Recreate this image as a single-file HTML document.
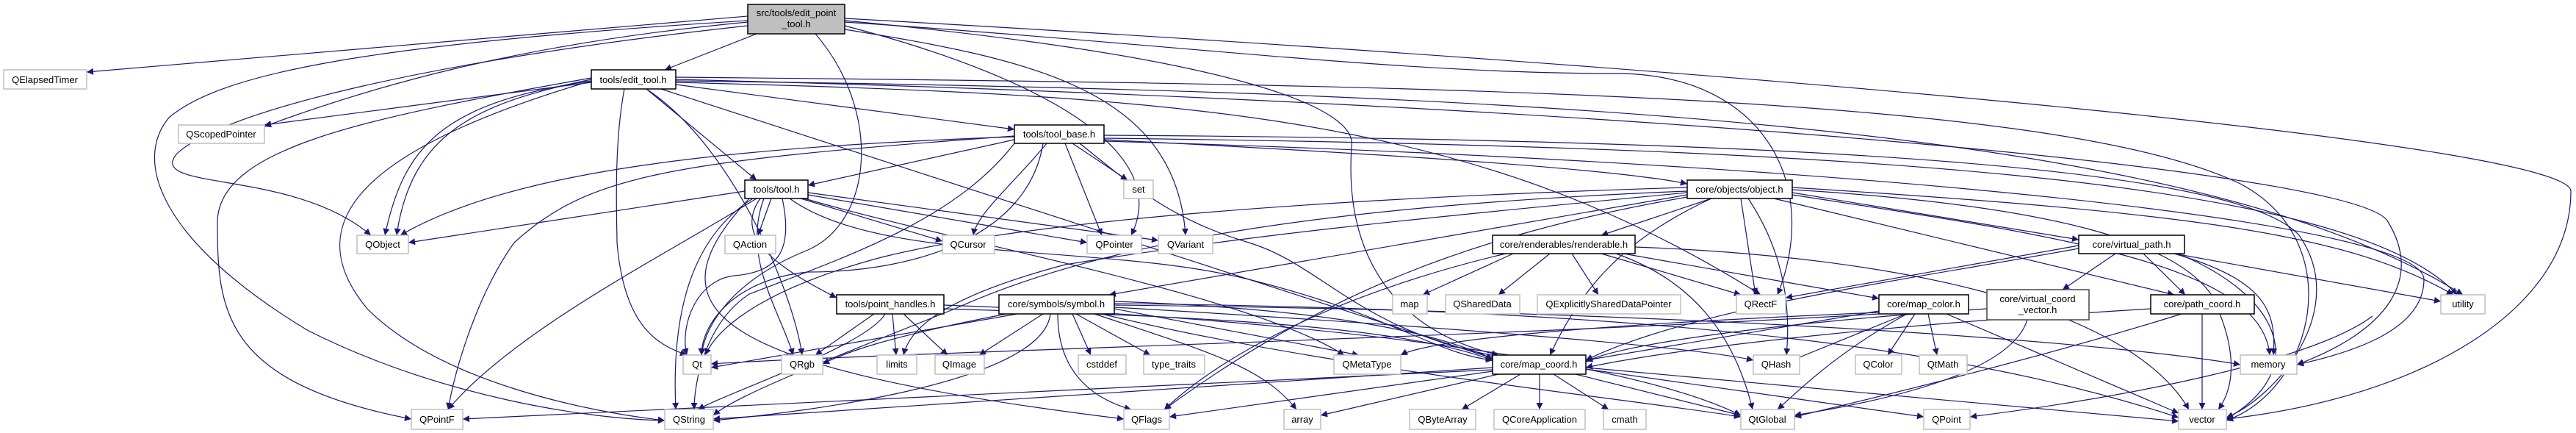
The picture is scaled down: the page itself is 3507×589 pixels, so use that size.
<!DOCTYPE html>
<html><head><meta charset="utf-8"><style>
html,body{margin:0;padding:0;background:#fff;}
svg{display:block;}
text{font-family:"Liberation Sans",sans-serif;font-size:13px;fill:#000;text-anchor:middle;}
.e path{fill:none;stroke:#191970;stroke-width:1.2;}
.g{fill:#fff;stroke:#bfbfbf;stroke-width:1.5;}
.b{fill:#fff;stroke:#000;stroke-width:1.5;}
</style></head><body>
<svg width="3507" height="589" viewBox="0 0 3507 589" xmlns="http://www.w3.org/2000/svg">
<defs><marker id="a" viewBox="0 0 10 10" markerWidth="11" markerHeight="9" refX="10" refY="5" orient="auto" markerUnits="userSpaceOnUse"><path d="M0,0 L10,5 L0,10 z" fill="#191970"/></marker></defs>
<g class="e" marker-end="url(#a)">
<path d="M1018 22 L118 98" marker-end="url(#a)"/>
<path d="M1030 46 L905 95" marker-end="url(#a)"/>
<path d="M1018 30 C700 60,500 120,360 172" marker-end="url(#a)"/>
<path d="M1018 35 C600 80,300 150,240 210 C200 260,400 230,505 320" marker-end="url(#a)"/>
<path d="M1018 28 C500 60,300 100,230 160 C180 220,220 330,420 450 C600 540,800 570,905 572" marker-end="url(#a)"/>
<path d="M1110 46 C1200 150,1190 300,1100 340 C1000 380,960 440,955 483" marker-end="url(#a)"/>
<path d="M1150 35 C1400 100,1600 200,1540 320" marker-end="url(#a)"/>
<path d="M1150 40 C1400 80,1600 120,1614 320" marker-end="url(#a)"/>
<path d="M1150 30 C1600 60,1900 100,2200 100 C2400 100,2480 250,2420 401" marker-end="url(#a)"/>
<path d="M1150 28 C1700 80,1850 150,1840 200 C1830 350,1900 450,2040 483" marker-end="url(#a)"/>
<path d="M1150 25 C2500 100,3500 200,3500 260 C3500 420,3300 540,3031 570" marker-end="url(#a)"/>
<path d="M805 112 L360 170" marker-end="url(#a)"/>
<path d="M805 110 C600 140,550 200,524 320" marker-end="url(#a)"/>
<path d="M805 108 C650 140,560 180,540 320" marker-end="url(#a)"/>
<path d="M805 106 C500 160,300 200,296 300 C296 420,300 520,560 570" marker-end="url(#a)"/>
<path d="M805 110 C500 200,400 300,500 420 C600 520,800 560,905 572" marker-end="url(#a)"/>
<path d="M850 121 C835 200,840 300,840 330 C850 450,900 470,935 483" marker-end="url(#a)"/>
<path d="M880 121 C1000 200,1080 400,1092 483" marker-end="url(#a)"/>
<path d="M920 115 L1381 176" marker-end="url(#a)"/>
<path d="M880 121 L1030 245" marker-end="url(#a)"/>
<path d="M900 121 L2040 490" marker-end="url(#a)"/>
<path d="M920 105 C2000 115,2800 130,3050 250 C3200 330,3150 530,3031 572" marker-end="url(#a)"/>
<path d="M920 110 C2200 125,3000 180,3353 401" marker-end="url(#a)"/>
<path d="M920 108 C2200 140,3200 230,3250 300 C3300 380,3250 450,3127 496" marker-end="url(#a)"/>
<path d="M920 112 C1600 130,2000 150,2397 401" marker-end="url(#a)"/>
<path d="M1381 186 C1000 200,700 230,545 320" marker-end="url(#a)"/>
<path d="M1381 190 L1100 252" marker-end="url(#a)"/>
<path d="M1381 185 C900 220,800 240,700 330 C650 400,620 500,610 557" marker-end="url(#a)"/>
<path d="M1381 195 C1300 300,1150 350,1020 400 C960 440,945 520,945 557" marker-end="url(#a)"/>
<path d="M1420 195 C1400 320,1250 370,1100 370 C1000 380,955 440,955 483" marker-end="url(#a)"/>
<path d="M1425 195 C1380 250,1330 290,1325 320" marker-end="url(#a)"/>
<path d="M1450 195 L1500 320" marker-end="url(#a)"/>
<path d="M1460 195 L1535 245" marker-end="url(#a)"/>
<path d="M1503 190 C1900 210,2200 230,2297 250" marker-end="url(#a)"/>
<path d="M1503 188 C2500 200,3200 240,3345 401" marker-end="url(#a)"/>
<path d="M1503 192 C2500 220,3300 300,3300 380 C3300 450,3200 480,3127 496" marker-end="url(#a)"/>
<path d="M1503 184 C2500 190,3050 230,3130 320 C3200 420,3100 540,3031 568" marker-end="url(#a)"/>
<path d="M1470 195 C1550 260,1600 300,1700 330 C1800 360,1850 450,2040 485" marker-end="url(#a)"/>
<path d="M1014 260 L556 330" marker-end="url(#a)"/>
<path d="M1050 270 L1032 320" marker-end="url(#a)"/>
<path d="M1090 270 L1283 328" marker-end="url(#a)"/>
<path d="M1100 265 L1480 330" marker-end="url(#a)"/>
<path d="M1100 262 L1577 327" marker-end="url(#a)"/>
<path d="M1030 270 C900 350,700 450,610 557" marker-end="url(#a)"/>
<path d="M1025 270 C930 330,915 450,920 557" marker-end="url(#a)"/>
<path d="M1065 270 C1080 340,1060 370,1000 375 C950 380,925 440,935 483" marker-end="url(#a)"/>
<path d="M1040 270 C1010 350,1060 420,1080 483" marker-end="url(#a)"/>
<path d="M1035 270 C1000 320,1050 360,1139 405" marker-end="url(#a)"/>
<path d="M1075 270 C1200 360,1500 330,1700 380 C1900 430,1950 480,2032 490" marker-end="url(#a)"/>
<path d="M1095 270 C1300 330,1700 400,1830 483" marker-end="url(#a)"/>
<path d="M1020 270 C880 420,960 500,1530 570" marker-end="url(#a)"/>
<path d="M1190 427 L1110 483" marker-end="url(#a)"/>
<path d="M1215 427 L1220 483" marker-end="url(#a)"/>
<path d="M1230 427 L1290 483" marker-end="url(#a)"/>
<path d="M1205 427 C1180 470,1000 530,950 557" marker-end="url(#a)"/>
<path d="M1285 420 C1600 430,1900 440,2032 490" marker-end="url(#a)"/>
<path d="M1285 415 C1700 430,2200 480,2370 565" marker-end="url(#a)"/>
<path d="M1385 427 L968 500" marker-end="url(#a)"/>
<path d="M1370 427 C1200 460,1150 480,1120 495" marker-end="url(#a)"/>
<path d="M1420 427 L1333 483" marker-end="url(#a)"/>
<path d="M1460 427 L1485 483" marker-end="url(#a)"/>
<path d="M1465 427 L1566 483" marker-end="url(#a)"/>
<path d="M1440 427 C1440 500,1480 540,1540 557" marker-end="url(#a)"/>
<path d="M1490 427 C1650 480,1720 500,1765 557" marker-end="url(#a)"/>
<path d="M1430 427 C1420 520,1100 560,971 572" marker-end="url(#a)"/>
<path d="M1517 410 C1800 420,1950 450,2032 488" marker-end="url(#a)"/>
<path d="M1517 420 L1850 483" marker-end="url(#a)"/>
<path d="M1517 418 C1900 440,2300 470,2387 490" marker-end="url(#a)"/>
<path d="M1517 413 C2300 420,2700 480,2966 568" marker-end="url(#a)"/>
<path d="M1517 415 C2400 425,2900 470,3050 496" marker-end="url(#a)"/>
<path d="M1500 427 C1800 500,2200 540,2370 567" marker-end="url(#a)"/>
<path d="M2330 270 L2180 320" marker-end="url(#a)"/>
<path d="M2370 270 L2390 401" marker-end="url(#a)"/>
<path d="M2380 270 C2420 330,2440 400,2432 483" marker-end="url(#a)"/>
<path d="M2440 262 L2830 326" marker-end="url(#a)"/>
<path d="M2415 270 L2960 401" marker-end="url(#a)"/>
<path d="M2440 255 C3000 290,3200 320,3340 401" marker-end="url(#a)"/>
<path d="M2440 258 C2800 280,2960 330,3010 400 C3050 480,3040 530,3020 557" marker-end="url(#a)"/>
<path d="M2440 265 C2800 320,3080 360,3090 483" marker-end="url(#a)"/>
<path d="M2330 270 C2200 330,2150 400,2110 483" marker-end="url(#a)"/>
<path d="M2297 260 C1800 280,1500 330,1300 420 C1100 500,1000 540,971 565" marker-end="url(#a)"/>
<path d="M2297 255 C1800 270,1400 300,1200 350 C1050 390,980 440,960 483" marker-end="url(#a)"/>
<path d="M2297 262 C1900 300,1700 320,1450 360 C1300 400,1240 440,1230 483" marker-end="url(#a)"/>
<path d="M2297 265 L1510 401" marker-end="url(#a)"/>
<path d="M2297 268 C2000 320,1800 400,1585 557" marker-end="url(#a)"/>
<path d="M2060 345 L1937 401" marker-end="url(#a)"/>
<path d="M2110 345 L2040 401" marker-end="url(#a)"/>
<path d="M2140 345 L2176 401" marker-end="url(#a)"/>
<path d="M2180 345 L2370 401" marker-end="url(#a)"/>
<path d="M2210 345 L2558 406" marker-end="url(#a)"/>
<path d="M2200 345 C2300 380,2360 450,2386 557" marker-end="url(#a)"/>
<path d="M2050 345 C1900 380,1700 450,1585 557" marker-end="url(#a)"/>
<path d="M2226 336 C2600 350,2900 420,2980 557" marker-end="url(#a)"/>
<path d="M2595 427 L2440 490" marker-end="url(#a)"/>
<path d="M2607 427 L2570 483" marker-end="url(#a)"/>
<path d="M2625 427 L2637 483" marker-end="url(#a)"/>
<path d="M2596 427 C2500 480,2450 530,2420 557" marker-end="url(#a)"/>
<path d="M2558 423 L2159 490" marker-end="url(#a)"/>
<path d="M2558 425 C2200 440,1950 460,1907 483" marker-end="url(#a)"/>
<path d="M2558 427 C2000 460,1200 480,968 495" marker-end="url(#a)"/>
<path d="M2650 427 L2966 562" marker-end="url(#a)"/>
<path d="M2070 509 L1990 557" marker-end="url(#a)"/>
<path d="M2096 509 L2096 557" marker-end="url(#a)"/>
<path d="M2115 509 L2190 557" marker-end="url(#a)"/>
<path d="M2145 509 L2370 565" marker-end="url(#a)"/>
<path d="M2159 502 L2619 567" marker-end="url(#a)"/>
<path d="M2032 500 L971 570" marker-end="url(#a)"/>
<path d="M2032 503 C1400 530,900 560,630 570" marker-end="url(#a)"/>
<path d="M2032 505 L1592 567" marker-end="url(#a)"/>
<path d="M2040 509 L1798 565" marker-end="url(#a)"/>
<path d="M2159 500 L2966 573" marker-end="url(#a)"/>
<path d="M2880 345 L2808 394" marker-end="url(#a)"/>
<path d="M2918 345 L2975 401" marker-end="url(#a)"/>
<path d="M2960 345 L3323 410" marker-end="url(#a)"/>
<path d="M2960 345 C3080 380,3100 420,3095 483" marker-end="url(#a)"/>
<path d="M2965 345 C3100 400,3150 500,3031 570" marker-end="url(#a)"/>
<path d="M2830 338 C2600 380,2300 420,2159 490" marker-end="url(#a)"/>
<path d="M2830 334 L2431 405" marker-end="url(#a)"/>
<path d="M2705 420 C2400 440,2200 470,2159 492" marker-end="url(#a)"/>
<path d="M2760 435 C2740 500,2600 540,2443 565" marker-end="url(#a)"/>
<path d="M2998 427 L2998 557" marker-end="url(#a)"/>
<path d="M2928 420 C2600 440,2300 470,2159 500" marker-end="url(#a)"/>
<path d="M2970 427 C2800 480,2600 530,2443 567" marker-end="url(#a)"/>
<path d="M3230 430 C3150 490,2900 540,2682 567" marker-end="url(#a)"/>
</g>
<g>
<rect x="1018" y="6" width="132" height="40" fill="#bfbfbf" stroke="#000" stroke-width="1.5"/>
<text x="1084" y="22">src/tools/edit_point</text><text x="1084" y="37">_tool.h</text>
<rect class="b" x="805" y="95" width="115" height="26"/><text x="862" y="113">tools/edit_tool.h</text>
<rect class="g" x="5" y="95" width="113" height="26"/><text x="61" y="113">QElapsedTimer</text>
<rect class="g" x="243" y="170" width="117" height="25"/><text x="301" y="187">QScopedPointer</text>
<rect class="b" x="1381" y="170" width="122" height="25"/><text x="1442" y="187">tools/tool_base.h</text>
<rect class="b" x="1014" y="245" width="86" height="25"/><text x="1057" y="262">tools/tool.h</text>
<rect class="g" x="1530" y="245" width="40" height="25"/><text x="1550" y="262">set</text>
<rect class="b" x="2297" y="245" width="143" height="25"/><text x="2368" y="262">core/objects/object.h</text>
<rect class="g" x="486" y="320" width="70" height="25"/><text x="521" y="337">QObject</text>
<rect class="g" x="987" y="320" width="69" height="25"/><text x="1021" y="337">QAction</text>
<rect class="g" x="1283" y="320" width="71" height="25"/><text x="1318" y="337">QCursor</text>
<rect class="g" x="1480" y="320" width="74" height="25"/><text x="1517" y="337">QPointer</text>
<rect class="g" x="1577" y="320" width="74" height="25"/><text x="1614" y="337">QVariant</text>
<rect class="b" x="2032" y="320" width="194" height="25"/><text x="2129" y="337">core/renderables/renderable.h</text>
<rect class="b" x="2830" y="320" width="144" height="25"/><text x="2902" y="337">core/virtual_path.h</text>
<rect class="b" x="1139" y="401" width="146" height="26"/><text x="1212" y="418">tools/point_handles.h</text>
<rect class="b" x="1360" y="401" width="157" height="26"/><text x="1438" y="418">core/symbols/symbol.h</text>
<rect class="g" x="1896" y="401" width="47" height="26"/><text x="1919" y="418">map</text>
<rect class="g" x="1968" y="401" width="101" height="26"/><text x="2018" y="418">QSharedData</text>
<rect class="g" x="2093" y="401" width="195" height="26"/><text x="2190" y="418">QExplicitlySharedDataPointer</text>
<rect class="g" x="2364" y="401" width="67" height="26"/><text x="2397" y="418">QRectF</text>
<rect class="b" x="2558" y="401" width="122" height="26"/><text x="2619" y="418">core/map_color.h</text>
<rect x="2705" y="394" width="139" height="41" fill="#fff" stroke="#444" stroke-width="1.5"/><text x="2774" y="411">core/virtual_coord</text><text x="2774" y="426">_vector.h</text>
<rect class="b" x="2928" y="401" width="141" height="26"/><text x="2998" y="418">core/path_coord.h</text>
<rect class="g" x="3323" y="401" width="60" height="26"/><text x="3353" y="418">utility</text>
<rect class="g" x="930" y="483" width="38" height="26"/><text x="949" y="500">Qt</text>
<rect class="g" x="1064" y="483" width="56" height="26"/><text x="1092" y="500">QRgb</text>
<rect class="g" x="1194" y="483" width="54" height="26"/><text x="1221" y="500">limits</text>
<rect class="g" x="1273" y="483" width="67" height="26"/><text x="1306" y="500">QImage</text>
<rect class="g" x="1468" y="483" width="65" height="26"/><text x="1500" y="500">cstddef</text>
<rect class="g" x="1557" y="483" width="83" height="26"/><text x="1598" y="500">type_traits</text>
<rect class="g" x="1816" y="483" width="91" height="26"/><text x="1861" y="500">QMetaType</text>
<rect class="b" x="2032" y="483" width="127" height="26"/><text x="2095" y="500">core/map_coord.h</text>
<rect class="g" x="2387" y="483" width="63" height="26"/><text x="2418" y="500">QHash</text>
<rect class="g" x="2526" y="483" width="63" height="26"/><text x="2557" y="500">QColor</text>
<rect class="g" x="2613" y="483" width="65" height="26"/><text x="2645" y="500">QtMath</text>
<rect class="g" x="3050" y="483" width="77" height="26"/><text x="3088" y="500">memory</text>
<rect class="g" x="560" y="557" width="70" height="27"/><text x="595" y="575">QPointF</text>
<rect class="g" x="905" y="557" width="66" height="27"/><text x="938" y="575">QString</text>
<rect class="g" x="1530" y="557" width="62" height="27"/><text x="1561" y="575">QFlags</text>
<rect class="g" x="1748" y="557" width="50" height="27"/><text x="1773" y="575">array</text>
<rect class="g" x="1919" y="557" width="90" height="27"/><text x="1964" y="575">QByteArray</text>
<rect class="g" x="2034" y="557" width="124" height="27"/><text x="2096" y="575">QCoreApplication</text>
<rect class="g" x="2183" y="557" width="58" height="27"/><text x="2212" y="575">cmath</text>
<rect class="g" x="2370" y="557" width="73" height="27"/><text x="2406" y="575">QtGlobal</text>
<rect class="g" x="2619" y="557" width="63" height="27"/><text x="2650" y="575">QPoint</text>
<rect class="g" x="2966" y="557" width="65" height="27"/><text x="2998" y="575">vector</text>
</g>
</svg>
</body></html>
